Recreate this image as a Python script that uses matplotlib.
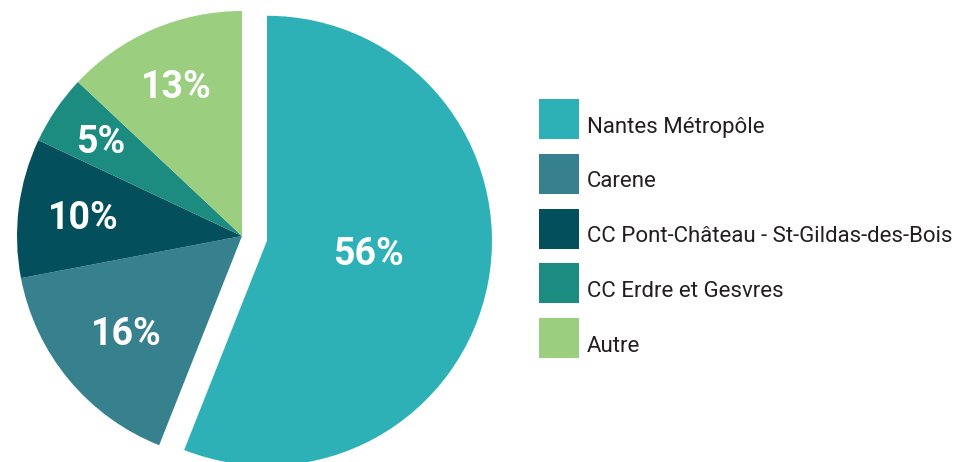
import matplotlib.pyplot as plt
import numpy as np
from matplotlib.patches import Rectangle

labels = ['Nantes Métropôle', 'Carene', 'CC Pont-Château - St-Gildas-des-Bois',
          'CC Erdre et Gesvres', 'Autre']
shares = [56, 16, 10, 5, 13]
colors = ['#2db1b7', '#37818e', '#034f5b', '#1c8c81', '#9bcf7f']
explode = [0.113, 0, 0, 0, 0]

W, H, DPI = 966, 462, 100
R = 225.0            # pie radius in px
cx, cy = 242, 236    # pie centre in px (from top-left)

fig = plt.figure(figsize=(W / DPI, H / DPI), dpi=DPI)
ax = fig.add_axes([0, 0, 1, 1])

wedges, _ = ax.pie(shares, colors=colors, explode=explode, startangle=90,
                   counterclock=False, radius=1, wedgeprops=dict(linewidth=0))

ax.set_xlim(-cx / R, (W - cx) / R)
ax.set_ylim(-(H - cy) / R, cy / R)
ax.set_aspect('auto')
ax.axis('off')

# percentage labels inside slices (distance from centre, small vertical nudge)
dist = [0.46, 0.67, 0.71, 0.76, 0.73]
nudge = [0.024, -0.012, -0.012, -0.012, -0.012]
for w, v, d, e, n in zip(wedges, shares, dist, explode, nudge):
    mid = np.deg2rad((w.theta1 + w.theta2) / 2)
    x = (d + e) * np.cos(mid)
    y = (d + e) * np.sin(mid)
    ax.text(x, y + n, f'{v}%', ha='center', va='center', color='white',
            fontsize=27, fontweight='bold', family='Roboto')

# legend drawn by hand
lx, ly, box, step = 539, 99, 40, 54.8
for i, (lab, c) in enumerate(zip(labels, colors)):
    top = ly + i * step
    fig.add_artist(Rectangle((lx / W, 1 - (top + box) / H), box / W, box / H,
                             transform=fig.transFigure, color=c, lw=0))
    fig.text((lx + box + 8) / W, 1 - (top + box / 2 + 8) / H, lab,
             ha='left', va='center', fontsize=16, color='#231f20',
             family='Roboto')

plt.savefig('out.png', dpi=DPI, facecolor='white')
plt.close()
